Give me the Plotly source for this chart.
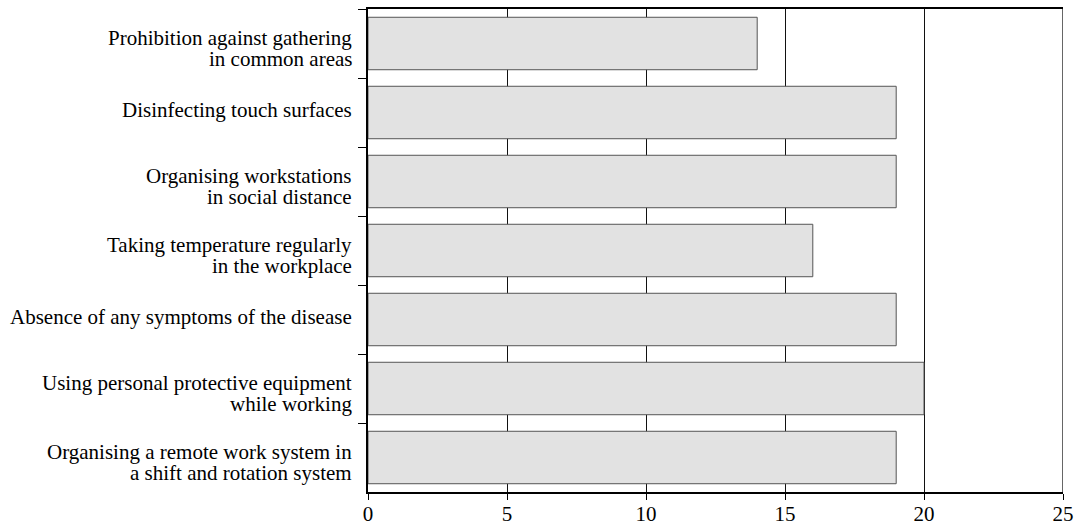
import plotly.graph_objects as go

categories = [
    "Prohibition against gathering<br>in common areas",
    "Disinfecting touch surfaces",
    "Organising workstations<br>in social distance",
    "Taking temperature regularly<br>in the workplace",
    "Absence of any symptoms of the disease",
    "Using personal protective equipment<br>while working",
    "Organising a remote work system in<br>a shift and rotation system",
]
values = [14, 19, 19, 16, 19, 20, 19]
x_ticks = [0, 5, 10, 15, 20, 25]

FONT_FAMILY = "Liberation Serif, Times New Roman, serif"
font = dict(family=FONT_FAMILY, size=21, color="#000000")
LINE_H = 21
SHIFT_ONE = 3      # vertical nudge for single-line labels
SHIFT_MULTI = -4.5  # vertical nudge for wrapped labels

fig = go.Figure()
fig.add_trace(go.Bar(
    y=categories, x=values, orientation="h",
    marker=dict(color="#e2e2e2", line=dict(color="#555555", width=1)),
))

annotations = []
for cat in categories:
    lines = cat.split("<br>")
    n = len(lines)
    base = SHIFT_ONE if n == 1 else SHIFT_MULTI
    for i, line in enumerate(lines):
        annotations.append(dict(
            xref="paper", yref="y", x=0, y=cat, text=line, showarrow=False,
            xanchor="right", yanchor="middle", xshift=-14,
            yshift=((n - 1) / 2 - i) * LINE_H + base, font=font,
        ))

fig.update_layout(
    width=1081, height=523,
    margin=dict(l=368, r=18, t=9, b=31, autoexpand=False),
    paper_bgcolor="white", plot_bgcolor="white",
    showlegend=False, bargap=0.24,
    font=font,
    xaxis=dict(
        range=[0, 25], tickvals=x_ticks, ticks="outside", ticklen=6, tickcolor="#000",
        showgrid=True, gridcolor="#111111", gridwidth=1,
        showline=True, linecolor="#000", linewidth=1.5, mirror=True,
        zeroline=False, tickfont=font, automargin=False, ticklabelstandoff=-4,
    ),
    yaxis=dict(
        autorange="reversed", type="category",
        ticks="outside", tickson="boundaries", ticklen=8, tickcolor="#000",
        showline=True, linecolor="#000", linewidth=1.5,
        showgrid=False, showticklabels=False, automargin=False,
    ),
    shapes=[dict(type="line", xref="x", yref="paper", x0=25, x1=25, y0=0, y1=1,
                 line=dict(color="#666666", width=2))],
    annotations=annotations,
)

fig.write_html("out.html", config={"displayModeBar": False},
               post_script="document.body.style.margin='0';")
